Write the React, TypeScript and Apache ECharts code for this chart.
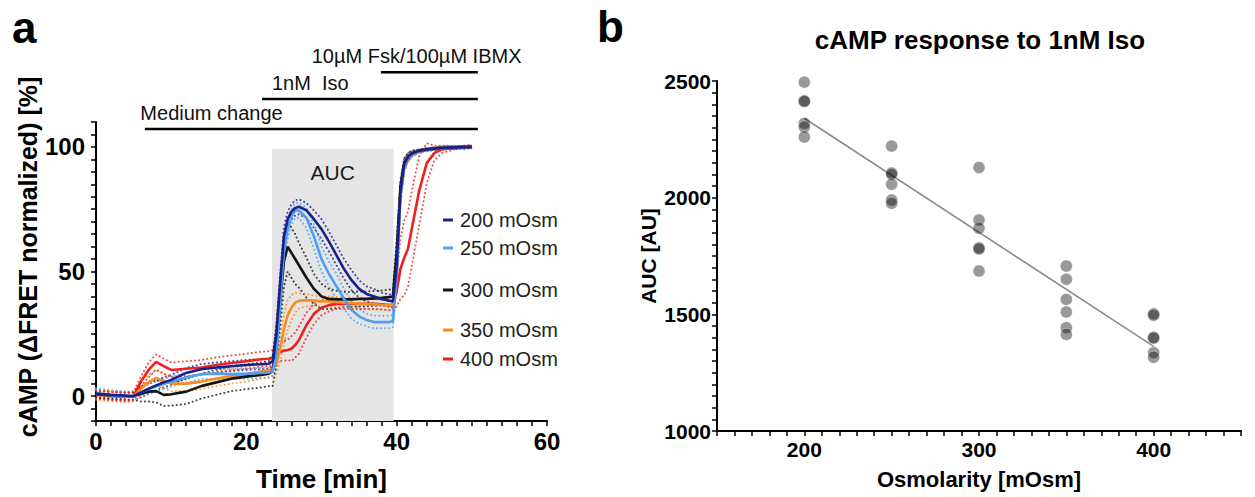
import React, { useEffect, useRef } from 'react';
import * as echarts from 'echarts';

const FONT = '"Liberation Sans", Arial, Helvetica, sans-serif';

// ---- Panel a: cAMP time course (mean ± SEM) ----
const timeMin = [0, 2, 4, 5, 6, 7, 8, 9, 10, 12, 14, 16, 18, 20, 22, 23, 23.5, 24, 24.5, 25, 25.5, 26, 26.5, 27, 28, 29, 30, 31, 32, 33, 34, 35, 36, 37, 38, 39, 39.5, 40, 40.5, 41, 41.5, 42, 43, 44, 45, 46, 48, 50];

const groupNames = ['200 mOsm', '250 mOsm', '300 mOsm', '350 mOsm', '400 mOsm'];
const groupColors = ['#1a1f8c', '#4c9ff2', '#151515', '#f98c1c', '#f01e1e'];

const mean200 = [1, 0.5, 0.2, 0, 1.5, 3, 4.3, 5.5, 6.5, 9.3, 10.8, 11.5, 12, 12.5, 12.8, 13, 14, 25, 45, 64, 71, 74, 75.5, 76, 74.5, 71, 67, 62, 56.5, 51, 46.5, 43, 41, 40, 39, 38.3, 38, 52, 82, 93, 96, 97.3, 98.4, 99, 99.3, 99.6, 99.8, 100];
const mean250 = [1.2, 0.3, -0.3, 0, 1.5, 2.8, 3.8, 4.8, 5.8, 7.5, 8.8, 9, 8.8, 9, 9.3, 9.5, 10, 16, 38, 58, 67, 72, 74.5, 74.5, 71.5, 64, 55, 49, 44, 39, 34.5, 32, 30.5, 29.7, 29.7, 29.7, 30, 48, 80, 92, 95.5, 97, 98.2, 98.8, 99.2, 99.5, 99.8, 100];
const mean300 = [0.8, 0.3, -0.2, 0, 0.8, 1.8, 2, 0.5, 0.7, 1.8, 4, 5.5, 7, 7.8, 8.5, 9, 10, 20, 38, 54, 60, 57.5, 55, 52.5, 47.5, 43, 40, 39, 38.8, 38.8, 38.8, 39, 39, 39.2, 39.4, 39.7, 40, 58, 84, 93.5, 96, 97.5, 98.5, 99, 99.3, 99.6, 99.8, 100];
const mean350 = [0.5, 0, -0.5, 0, 3, 5.5, 7.3, 6, 5, 5, 5.8, 7, 8, 8.8, 10, 10.5, 11, 13, 19, 27, 32.5, 35.5, 37.5, 38.2, 38.5, 38.3, 38, 38, 37.8, 37.5, 37.3, 37, 37, 36.8, 36.6, 36.5, 36.5, 50, 80, 92, 95.5, 97, 98.3, 99, 99.3, 99.6, 99.8, 100];
const mean400 = [0.5, 0, -0.3, 0, 6, 10.5, 13.7, 12, 10.5, 11, 11.5, 12.5, 13.3, 14, 14.8, 15, 15.5, 16.5, 17.7, 18.2, 18.5, 19, 20.5, 22.5, 28.5, 33, 35.5, 36.5, 37, 37, 37, 37, 37, 37, 36.8, 36.5, 36.3, 42, 51, 55.5, 59, 67, 82.5, 93.5, 97.5, 99, 99.8, 100.3];

const sem200 = [1.5, 1.5, 1.5, 1.5, 2, 2, 2, 2, 2, 2, 2, 2, 2, 2, 2, 2, 2, 4, 4, 4, 3, 3, 3, 3, 3, 3.5, 4, 4, 4, 4, 4, 3.5, 3, 3, 2.5, 2.5, 2.5, 4, 3, 2, 1.5, 1, 0.5, 0.5, 0.5, 0.5, 0.5, 0.5];
const sem250 = [2, 2, 2, 2, 2, 2, 2, 2, 2, 2, 2, 2, 2, 2, 2, 2, 2, 4, 5, 5, 4, 3, 3, 3, 4, 5, 5, 5, 5, 4, 3.5, 3, 2.5, 2.5, 2.5, 2.5, 2.5, 4, 3, 2, 1.5, 1, 0.5, 0.5, 0.5, 0.5, 0.5, 0.5];
const sem300 = [1.5, 1.5, 1.5, 1.5, 3, 4, 4.5, 4.5, 4.5, 5, 5, 5, 5, 5, 5, 5, 6, 8, 10, 10, 10, 10, 10, 9, 8, 6, 5, 4, 3.5, 3, 3, 3, 3, 3, 3, 3, 3, 5, 3, 2, 1.5, 1, 0.5, 0.5, 0.5, 0.5, 0.5, 0.5];
const sem350 = [2, 2, 2, 2, 2.5, 3, 3, 3, 3, 3, 3, 3, 3, 3, 3, 3, 3, 4, 5, 6, 6, 5, 4, 3, 2.5, 2, 2, 2, 2, 2, 2, 2, 2, 2, 2, 2, 2, 4, 3, 2, 1.5, 1, 0.5, 0.5, 0.5, 0.5, 0.5, 0.5];
const sem400 = [1.5, 1.5, 1.5, 1.5, 2, 3, 3, 3, 3, 3, 3, 3, 3, 3, 3, 3, 3, 3, 3.5, 4, 4, 5, 5, 5.5, 5, 4, 3, 2.5, 2, 2, 2, 2, 2, 2, 2, 2, 2, 6, 12, 15, 15, 15, 14, 8, 3, 1.5, 0.5, 0.5];

const groupMeans = [mean200, mean250, mean300, mean350, mean400];
const groupSems = [sem200, sem250, sem300, sem350, sem400];

// Shaded integration window for the AUC (minutes) and its upper edge (%)
const aucWindow = [23.4, 39.6];
const aucTop = 99.3;

// Treatment bars drawn above the trace
const treatmentLabels = ['Medium change', '1nM  Iso', '10\u00b5M Fsk/100\u00b5M IBMX'];
const treatmentStart = [6.5, 22.1, 37.9];
const treatmentEnd = [50.8, 50.8, 50.8];
const treatmentLevel = [107.2, 119.2, 130];
const treatmentLabelStart = [5.9, 23.4, 28.7];

// ---- Panel b: AUC vs osmolarity ----
const osmLevels = [200, 250, 300, 350, 400];
const auc200 = [2495, 2415, 2412, 2318, 2303, 2260];
const auc250 = [2221, 2106, 2100, 2057, 1990, 1976];
const auc300 = [2129, 1904, 1869, 1785, 1780, 1686];
const auc350 = [1707, 1650, 1564, 1510, 1443, 1414];
const auc400 = [1502, 1496, 1402, 1398, 1336, 1316];
const aucGroups = [auc200, auc250, auc300, auc350, auc400];

function linearFit(points: number[][]) {
  const n = points.length;
  const mx = points.reduce((s, p) => s + p[0], 0) / n;
  const my = points.reduce((s, p) => s + p[1], 0) / n;
  let sxy = 0;
  let sxx = 0;
  points.forEach(([x, y]) => {
    sxy += (x - mx) * (y - my);
    sxx += (x - mx) * (x - mx);
  });
  const slope = sxy / sxx;
  return (x: number) => my + slope * (x - mx);
}

const axisBase = {
  axisLine: { show: true, onZero: false, lineStyle: { color: '#000', width: 2 } },
  axisTick: { show: true, inside: false, length: 5, lineStyle: { color: '#000', width: 1.5 } },
  splitLine: { show: false },
};

function buildOption(): any {
  const series: any[] = [];

  // shaded AUC window
  series.push({
    type: 'line',
    name: 'auc-window',
    xAxisIndex: 0,
    yAxisIndex: 0,
    data: [],
    z: 1,
    silent: true,
    markArea: {
      silent: true,
      itemStyle: { color: '#e5e5e5' },
      label: {
        show: true,
        position: 'insideTop',
        distance: 13,
        formatter: 'AUC',
        fontSize: 21,
        fontFamily: FONT,
        color: '#1a1a1a',
      },
      data: [[{ xAxis: aucWindow[0], yAxis: -10 }, { xAxis: aucWindow[1], yAxis: aucTop }]],
    },
  });

  // SEM envelopes (dotted)
  groupNames.forEach((name, g) => {
    const mean = groupMeans[g];
    const sem = groupSems[g];
    const upper = timeMin.map((t, k) => [t, mean[k] + sem[k]]);
    const lower = timeMin.map((t, k) => [t, mean[k] - sem[k]]);
    [upper, lower].forEach((d, j) => {
      series.push({
        type: 'line',
        name: `${name} ${j === 0 ? '+' : '-'}SEM`,
        xAxisIndex: 0,
        yAxisIndex: 0,
        data: d,
        symbol: 'none',
        silent: true,
        z: 2,
        lineStyle: { color: groupColors[g], width: 2, type: [0.1, 4], cap: 'round', opacity: 0.8 },
      });
    });
  });

  // mean traces, drawn from 400 up to 200 so the darkest trace sits on top
  for (let g = groupNames.length - 1; g >= 0; g--) {
    series.push({
      type: 'line',
      name: groupNames[g],
      xAxisIndex: 0,
      yAxisIndex: 0,
      data: timeMin.map((t, k) => [t, groupMeans[g][k]]),
      symbol: 'none',
      z: 3,
      itemStyle: { color: groupColors[g] },
      lineStyle: { color: groupColors[g], width: 2.6 },
    });
  }

  // panel b scatter and regression
  const scatterData: number[][] = [];
  osmLevels.forEach((osm, i) => aucGroups[i].forEach((v) => scatterData.push([osm, v])));
  const fit = linearFit(scatterData);
  const xFit = [osmLevels[0], osmLevels[osmLevels.length - 1]];
  series.push({
    type: 'line',
    name: 'fit',
    xAxisIndex: 1,
    yAxisIndex: 1,
    data: xFit.map((x) => [x, fit(x)]),
    symbol: 'none',
    z: 2,
    silent: true,
    lineStyle: { color: '#8c8c8c', width: 1.6 },
  });
  series.push({
    type: 'scatter',
    name: 'AUC',
    xAxisIndex: 1,
    yAxisIndex: 1,
    data: scatterData,
    symbol: 'circle',
    symbolSize: 12,
    z: 3,
    itemStyle: { color: 'rgba(0,0,0,0.5)', borderColor: 'rgba(255,255,255,0.35)', borderWidth: 1 },
  });

  const legendCenters = [221, 249, 291, 331, 360];
  const legends = groupNames.map((name, i) => ({
    data: [name],
    left: 443,
    top: legendCenters[i] - 11,
    padding: 0,
    orient: 'vertical',
    icon: 'rect',
    itemWidth: 10,
    itemHeight: 3,
    itemGap: 0,
    selectedMode: false,
    textStyle: { fontSize: 20, fontFamily: FONT, color: '#222', padding: [0, 0, 0, 2] },
  }));

  return {
    animation: false,
    backgroundColor: '#fff',
    textStyle: { fontFamily: FONT },
    legend: legends,
    grid: [
      { left: 96, right: 708, top: 122, bottom: 74 },
      { left: 717, right: 14, top: 81, bottom: 66 },
    ],
    xAxis: [
      {
        ...axisBase,
        type: 'value',
        gridIndex: 0,
        min: 0,
        max: 60,
        interval: 2,
        axisLabel: {
          margin: 8,
          fontSize: 24,
          fontWeight: 'bold',
          color: '#000',
          fontFamily: FONT,
          formatter: (v: number) => (v % 20 === 0 ? String(v) : ''),
        },
        name: 'Time [min]',
        nameLocation: 'middle',
        nameGap: 45,
        nameTextStyle: { fontSize: 26, fontWeight: 'bold', color: '#000', fontFamily: FONT },
      },
      {
        ...axisBase,
        type: 'value',
        gridIndex: 1,
        min: 150,
        max: 450,
        interval: 10,
        axisLabel: {
          margin: 8,
          fontSize: 21,
          fontWeight: 'bold',
          color: '#000',
          fontFamily: FONT,
          formatter: (v: number) => (v % 100 === 0 ? String(v) : ''),
        },
        name: 'Osmolarity [mOsm]',
        nameLocation: 'middle',
        nameGap: 37,
        nameTextStyle: { fontSize: 22, fontWeight: 'bold', color: '#000', fontFamily: FONT },
      },
    ],
    yAxis: [
      {
        ...axisBase,
        type: 'value',
        gridIndex: 0,
        min: -10,
        max: 110,
        interval: 5,
        axisLabel: {
          margin: 11,
          fontSize: 24,
          fontWeight: 'bold',
          color: '#000',
          fontFamily: FONT,
          formatter: (v: number) => (v % 50 === 0 ? String(v) : ''),
        },
      },
      {
        ...axisBase,
        type: 'value',
        gridIndex: 1,
        min: 1000,
        max: 2500,
        interval: 50,
        axisLabel: {
          margin: 6,
          fontSize: 21,
          fontWeight: 'bold',
          color: '#000',
          fontFamily: FONT,
          formatter: (v: number) => (v % 500 === 0 ? String(v) : ''),
        },
      },
    ],
    series,
  };
}

function textEl(text: string, x: number, y: number, size: number, opts: any = {}) {
  const align = opts.align || 'left';
  return {
    type: 'text',
    x,
    y,
    rotation: opts.rotation || 0,
    silent: true,
    z: 10,
    style: {
      text,
      fontSize: size,
      lineHeight: size,
      fontWeight: opts.bold ? 'bold' : 'normal',
      fontFamily: FONT,
      fill: opts.fill || '#111',
      align,
      textAlign: align,
      verticalAlign: 'middle',
      textVerticalAlign: 'middle',
    },
  };
}

export default function App() {
  const ref = useRef<HTMLDivElement>(null);

  useEffect(() => {
    if (!ref.current) return;
    const chart = echarts.init(ref.current, null, { renderer: 'svg' });
    chart.setOption(buildOption());

    const px = (t: number, v: number) => chart.convertToPixel({ gridIndex: 0 }, [t, v]) as number[];
    const graphics: any[] = [];

    treatmentLabels.forEach((label, i) => {
      const a = px(treatmentStart[i], treatmentLevel[i]);
      const b = px(treatmentEnd[i], treatmentLevel[i]);
      graphics.push({
        type: 'line',
        silent: true,
        z: 10,
        shape: { x1: a[0], y1: a[1], x2: b[0], y2: b[1] },
        style: { stroke: '#000', lineWidth: 2.5 },
      });
      const l = px(treatmentLabelStart[i], treatmentLevel[i]);
      graphics.push(textEl(label, l[0], l[1] - 16, 20));
    });

    graphics.push(textEl('cAMP (\u0394FRET normalized) [%]', 28, 257, 25, { bold: true, align: 'center', rotation: Math.PI / 2, fill: '#000' }));
    graphics.push(textEl('AUC [AU]', 648, 256, 21, { bold: true, align: 'center', rotation: Math.PI / 2, fill: '#000' }));
    graphics.push(textEl('cAMP response to 1nM Iso', 980, 40, 26, { bold: true, align: 'center', fill: '#000' }));
    graphics.push(textEl('a', 12, 27, 44, { bold: true, fill: '#000' }));
    graphics.push(textEl('b', 597, 26, 44, { bold: true, fill: '#000' }));

    chart.setOption({ graphic: graphics });

    return () => {
      chart.dispose();
    };
  }, []);

  return (
    <div
      ref={ref}
      style={{ position: 'absolute', left: 0, top: 0, width: 1255, height: 497, background: '#fff' }}
    />
  );
}
